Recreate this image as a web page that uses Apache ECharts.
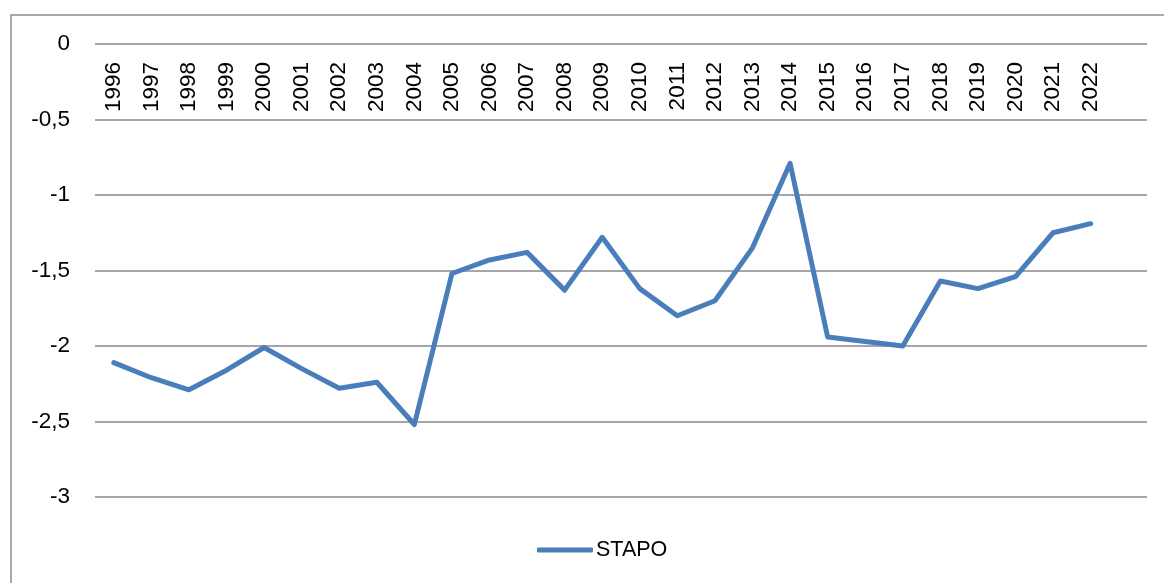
<!DOCTYPE html>
<html>
<head>
<meta charset="utf-8">
<script src="https://cdn.jsdelivr.net/npm/echarts@6/dist/echarts.min.js"></script>
<style>
  html, body { margin: 0; padding: 0; background: #fff; }
  #chart { width: 1164px; height: 583px; }
</style>
</head>
<body>
<div id="chart"></div>
<script>
const years = ['1996', '1997', '1998', '1999', '2000', '2001', '2002', '2003', '2004', '2005',
  '2006', '2007', '2008', '2009', '2010', '2011', '2012', '2013', '2014', '2015',
  '2016', '2017', '2018', '2019', '2020', '2021', '2022', '']
const stapo = [-2.11, -2.21, -2.29, -2.16, -2.01, -2.15, -2.28, -2.24, -2.52, -1.52,
  -1.43, -1.38, -1.63, -1.28, -1.62, -1.80, -1.70, -1.35, -0.79, -1.94,
  -1.97, -2.00, -1.57, -1.62, -1.54, -1.25, -1.19, null]
const yTicks = { min: -3, max: 0, step: 0.5 }

const LINE_COLOR = '#4a7ebb'
const GRID_COLOR = '#898989'

const chart = echarts.init(document.getElementById('chart'))

chart.setOption({
  animation: false,
  // outer frame of the chart area
  graphic: [{
    type: 'rect',
    shape: { x: 11, y: 15, width: 1200, height: 600 },
    style: { fill: 'none', stroke: '#8c8c8c', lineWidth: 1.5 },
    silent: true,
  }],
  grid: { left: 95, right: 17, top: 44, bottom: 86 },
  legend: {
    data: ['STAPO'],
    bottom: 17,
    left: 532,
    itemWidth: 56,
    itemHeight: 5,
    itemGap: 3,
    icon: 'roundRect',
    textStyle: { color: '#000', fontSize: 21.5, fontFamily: 'Liberation Sans', padding: [0, 0, 0, -2] },
  },
  xAxis: {
    type: 'category',
    data: years,
    position: 'top',
    boundaryGap: true,
    axisLine: { show: false },
    axisTick: { show: false },
    splitLine: { show: false },
    axisLabel: {
      inside: true,
      rotate: 90,
      margin: 18,
      interval: 0,
      color: '#000',
      fontSize: 22.5,
      fontFamily: 'Liberation Sans',
    },
  },
  yAxis: {
    type: 'value',
    min: yTicks.min,
    max: yTicks.max,
    interval: yTicks.step,
    axisLine: { show: false },
    axisTick: { show: false },
    axisLabel: {
      color: '#000',
      fontSize: 22.5,
      fontFamily: 'Liberation Sans',
      margin: 25,
      formatter: v => String(v).replace('.', ','),
    },
    splitLine: { lineStyle: { color: GRID_COLOR, width: 1.5 } },
  },
  series: [{
    name: 'STAPO',
    type: 'line',
    data: stapo,
    symbol: 'none',
    lineStyle: { color: LINE_COLOR, width: 5, cap: 'round', join: 'round' },
    itemStyle: { color: LINE_COLOR },
  }],
})
</script>
</body>
</html>
